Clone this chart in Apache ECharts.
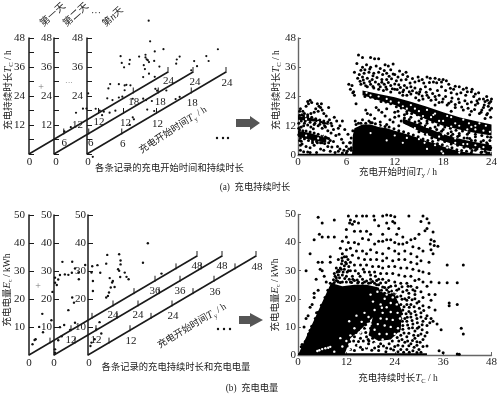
<!DOCTYPE html>
<html><head><meta charset="utf-8">
<style>html,body{margin:0;background:#fff}#c{width:500px;height:396px;filter:blur(0.45px)}</style>
<script src="https://cdn.jsdelivr.net/npm/echarts@6/dist/echarts.min.js"></script></head>
<body><div id="c"></div>
<script>
// ---- tick labels ----
const startTicks=[6,12,18,24];
const durationTicks=[6,12,18,24,30,36,42,48];
const durationLabels=[12,24,36,48];
// ---- left: example records per day, [Ts, Tc] ----
const recA2=[[3.8,11.7],[5,11.7],[5.6,10.9],[2.9,7],[1.8,6.8]];
const recA3=[[10.65,40.1],[10.9,31.2],[13.2,24.7],[11.7,25.9],[5.8,32.3],[10.1,26.8],[10.1,25.7],[10.3,24.6],[10.5,24],[10.7,22.9],[11.6,22.1],[7.4,28.5],[6,29.2],[7.3,26.9],[6.4,26.8],[9,27.6],[9.8,22.9],[12.5,18.5],[10,21],[10.7,18.1],[9.7,18.1],[11.7,15.4],[15.4,15.6],[15.5,17.2],[16,17.7],[18.5,12.3],[19,9.5],[20.6,11.4],[21,8.8],[22.6,11.4],[18,9.2],[4,23.3],[3.7,21.9],[5.5,21.1],[6.5,19.2],[6.8,19],[7.5,17.8],[6.5,17.2],[3.5,18.1],[4.4,16.1],[5.5,15.6],[6.1,15.1],[7.9,11.7],[9.7,9.2],[10.2,7.9],[11.8,10.3],[12.1,9.1],[13.7,6.9],[16,1],[15.3,1.1],[11.2,6.1],[10.4,3.7],[11.6,1.4],[7.9,4],[8.1,2.9],[7.4,1.6],[0.2,24.8],[1,-2.6],[1.5,16.6],[2.2,14.9],[2.9,13.4],[3.9,11.6],[4.9,11],[2.6,12.4]];
// ---- left: example records per day, [Tc, Ec] ----
const recB1=[[1,3.1],[1.6,4.2],[1.9,4.2],[2.9,7.9],[3.8,11.9],[4,5.2],[6.4,7.7],[6.7,17.6]];
const recB2=[[0.3,1.8],[0.3,0.6],[0.3,25.6],[0.3,27.4],[0.8,24.4],[1.2,26.1],[1.7,27.3],[2.4,31.5],[3.1,26.5],[4.1,25.6],[5.2,29.5],[5.1,25.6],[6,26.5],[7,24.3],[7.1,21.8],[8.9,25.6],[4.1,13],[5.2,16.7],[5.7,14.5],[6,7.1],[2.9,8.6],[1.7,8.7],[1.2,4.4],[2.2,5.1],[4.6,5.6]];
const recB3=[[1,3.7],[0.7,2.7],[1.9,4.2],[3.8,4.9],[3.3,9.3],[2.4,7.4],[1.2,30.8],[1,28.7],[1.4,25.4],[1.4,21.8],[2.7,30.1],[3.5,26.8],[5.2,28.8],[5.5,31.7],[5.2,16.7],[5.7,16.9],[6,17.9],[6.2,22.9],[6.5,19.3],[6.9,20.8],[7.1,21.2],[7.6,18.7],[8.9,29.4],[9.3,26.9],[9.3,25.5],[8.6,24.3],[8.9,23.5],[9.2,21.1],[10.5,21.7],[11,19.8],[11.6,18.5],[17.1,27.3],[15.7,21.4],[21,13.6]];
// ---- right top: [Ts, Tc] ----
const denseA=[[0.3,19],[0.6,18],[0.8,17],[1,20],[1.2,22],[1.3,21],[1.5,22.5],[1.7,21.5],[0.5,16.5],[0.2,18],[2.2,19],[2.4,21],[2.6,20],[2.8,19.5],[3,18.5],[3.2,17],[2.9,21],[2.5,18],[2,17.5],[1.6,17],[1.2,16.5],[3.5,16],[3.8,19.5],[3.9,14.5],[4.5,15.5],[4.8,14],[5,11],[5.2,12],[5.5,14],[5.8,10.5],[4.2,12],[4.4,10.5],[4.1,9],[3.4,11.5],[3,11],[2.5,12],[2,12.5],[1.6,11.5],[1.2,12.3],[0.7,12],[0.4,11.5],[0.1,11],[3.7,10],[4.7,8],[5.1,8.5],[5.4,6.5],[5.6,5],[6,3.5],[6.2,8.5],[6.4,5],[3.6,7],[4,6],[4.4,5.5],[4.9,3.5],[5.2,2.5],[5.7,2],[6.1,1.5],[6.3,2.5],[6.6,3],[1,3.5],[1.5,3],[0.5,4.5],[0.3,2],[0.7,1.3],[1.2,1.2],[2,4],[2.4,5],[2.8,2.5],[3.2,2],[3.7,3.5],[4,1.5],[4.2,3.3],[4.6,1],[5,1.5],[5.5,0.8],[6,0.8],[0.2,6],[0.4,5.6],[1.8,5],[3,5],[2.3,1],[1.5,1],[0.1,13],[0.8,13],[2.6,14],[3.2,13],[1.9,10.8],[0.3,4],
[7.5,41],[8,40],[9,40],[9.5,39.5],[10,39.5],[8,36],[7.3,37.5],[8.5,37],[9,36],[9.7,36.5],[10.8,37],[11.2,36.5],[11.8,37.3],[11.5,35],[12,33],[13,33],[13.4,34],[7,34],[7.6,33],[8.2,33.5],[8.8,34],[9.4,33.5],[10,34],[10.5,33],[11,33.5],[12.4,32],[7.4,31.5],[8,32],[8.6,31.5],[9.2,31],[9.8,31.8],[10.4,31],[11,31],[11.6,31.3],[12.2,30.5],[12.8,30.8],[13.4,31],[13.9,29.5],[14.5,30],[15,30.5],[15.6,29.5],[16,32],[16.4,31.5],[17,31.5],[17.5,31],[18,31],[18.4,30.5],[16.8,30],[15.8,28],[17.8,28],[18.7,29],[19.3,27],[20,28],[20.5,27],[21,26],[21.5,26],[22,25],[23,23],[23.5,22.5],[23.9,22],[22.5,23],[21.8,24],[20.8,24.5],[20.2,25.5],[19.7,25],[19,25.5],[18.3,26.5],[17.3,26.5],[16.4,27],[15.2,27],[14.5,27.5],[14,28],[13.2,28.5],[12.5,28.8],[11.5,28.5],[10.7,29],[10,29],[9,29],[8.2,29.5],[7.8,29],[6.7,28.5],[6.3,29],[6.5,27],[6.9,26],[7,24.5],[6.8,25.5],[7.2,21],[23.6,20],[23,19.5],[22,20.5],[21,21],[20,21.5],[19,22],[18,23],[17,24],[16,24.5],[15,25],[14,25],[13,26],[12,27],[11,27],[10,27],[8.6,28],[9.4,27.5],[10.6,26.5],[11.5,25.8],[12.6,25.5],[13.5,24.5],[14.6,23.5],[15.5,23],[16.5,22.5],[17.5,21.5],[18.5,20.5],[19.5,19.5],[20.5,18.5],[21.5,18],[22.5,17],[23.5,17],[23.9,15.5],[23.2,15],[22.8,18.5],[21.3,16.5],[19,18],[17,20.5],[15,22.5],[13,24.5],
[7.1,14],[7.5,13],[8,14.5],[8.4,18.5],[8.6,17],[9,16.5],[9.5,15],[9.7,19.5],[10,18.5],[10.4,17.5],[10.8,16],[11,19],[11.4,14.5],[11.8,13.5],[12,17.5],[12.4,18],[12.8,14],[13.2,16.5],[13.5,13],[14,15.5],[14.4,12],[8.8,14],[10.2,13.5],[9.2,13.2],[11,12.5],[12.5,12],[15,12.5],[15.5,10.5],[16,9.5],[16.5,8.5],[17,7.5],[17.5,9],[18,8],[18.5,6],[19,7.8],[19.5,6.5],[20,8.8],[20.5,5.5],[21,7],[21.5,6],[22,7.5],[22.5,3.5],[23,6],[23.5,4.5],[23.8,6],[23.9,3],[22.2,2.5],[23.2,1.5],[21.6,1.8],[23.7,0.8],[22.7,1],[16,13],[17,11.5],[18,10.5],[19,9.5],[20,8],[21,8.5],[15,14],[13.5,17],[12,15.5]];
const denseA2=[[7.7,30.3],[8.1,30.8],[8.4,28.4],[8.9,30.2],[9.3,28.1],[9.6,29.9],[10.2,28],[10.4,29.8],[10.9,27.9],[11.2,29.7],[11.7,27.2],[12,29.1],[12.3,26.9],[12.7,27.7],[13.1,26.7],[13.5,27.6],[13.8,26],[14.2,26.4],[14.7,25.5],[15.1,26],[15.4,24.2],[15.9,25.7],[16.2,23.6],[16.7,25.2],[17.1,22.8],[17.5,24.5],[17.9,21.7],[18.3,24],[18.7,21.2],[19.1,23.4],[19.5,20.7],[19.9,23],[20.3,19.7],[20.7,22.3],[21.1,19.2],[21.5,21.7],[21.9,18.7],[22.3,21.2],[22.7,17.5],[23.1,20.5],[23.4,16.5],[23.8,18.5],[24,19.2],[23.7,21.2],[23.2,22],[22.2,22.3],
[8.3,35],[8.9,35.3],[9.3,32.5],[7.8,34.8],[10.2,35.5],[10.7,34.7],[11.3,32.3],[11.8,33.2],[12.6,34.5],[13.6,32.2],[14.2,31.4],[14.9,32],[15.4,31],[16.3,29.7],[17.2,29.6],[17.8,30],[18.9,27.4],[19.5,28.2],[20.9,27.5],[21.6,27],[22.4,25.5],[23.4,24],[24,23],
[8.3,24],[9,23.7],[9.6,23.2],[10.3,22],[10.9,21.7],[11.5,21],[12.2,19.8],[12.8,19.3],[13.5,17.8],[14.1,17],[14.8,16.5],[15.3,15],[16,14],[16.7,13.5],[17.4,12.3],[18.2,11.5],[18.9,11],[19.6,10.2],[20.4,9.8],[21.2,9.2],[22,8.5],[22.8,8],[23.5,7.5],[23.9,7.3],
[12.5,16],[13.2,15.2],[13.8,14.6],[14.5,13.5],[15.2,13],[15.8,12],[16.4,11],[17.2,10.5],[17.8,9.7],[18.6,8.8],[19.2,8.5],[19.8,7.6],[20.6,7],[21.3,6.8],[22,6],[22.7,5.4],[23.4,5],[14,12.3],[15,9.5],[15.8,8.5],[16.6,7],[17.4,6.2],[18.2,5.5],[19,4.5],[19.8,4],[20.6,3.2],[21.4,2.8],[22,2],[22.8,1.2],[23.4,0.9],
[7.2,12.5],[7.8,13],[8.4,13],[9,13.3],[9.6,12.8],[10.2,12.2],[10.8,11.7],[11.3,11.5],[11.9,10.8],[12.5,10],[13.1,9.5],[13.7,8.8],[14.3,8.2],[14.9,7.5],[15.5,6.6],[16.1,6],[16.7,5.5],[17.3,4.6],[17.9,4.2],[18.5,3.4],[19.1,3],[19.7,2.2],[20.3,1.8],[20.9,1.5],[21.5,1],[6.8,10],[6.6,7],[6.5,5],[6.6,2],
[0.2,10.4],[0.6,10],[1,9.8],[1.5,9.4],[2,9],[2.5,8.5],[3,8],[3.4,7.4],[3.8,6.8],[0.3,7],[0.8,6.7],[1.3,6],[1.8,5.8],[2.3,5.5],[2.8,5],[3.3,4.7],[3.8,5],[0.2,16.3],[0.7,16],[1.2,15.7],[1.7,15.5],[2.2,14.9],[2.7,14.4],[3.2,14],[3.7,13.5],[4.1,13],[0.4,14],[0.9,13.9],[1.5,13.4],[2.1,13],[2.7,12.6],[3.3,12],[0.1,8.3]];
const speckA=[[9,24.5],[11,23],[12.5,21.5],[14,20.5],[13,20],[15,18],[16,18.5],[16.5,15.5],[17.5,14],[18.5,16],[19.5,13],[20.5,14.5],[21.5,11.5],[22.5,13],[23,10],[10,12],[12,8],[13.5,7],[15,6.5],[15.7,5],[17,4],[18.5,3],[20,1],[17.8,1.5],[14,9.5],[14.2,14],[16,11.5],[18,8.5],[19.5,5],[21,4.5],[22.5,2.5],[1,8],[2.5,6.8],[3,8.5],[1,14.7],[2.5,13.5],[21.2,13],[22,10.5],[16.8,16.5],[19,11.7],[8.5,25.5],[10,24],[11.5,22],[13.5,19],[14.5,19],[15.5,16],[17,17],[18,14],[19,15.5],[20,12],[21,10.5],[22,12],[23.3,12],[23.8,9.5],[14.5,11],[16,8.5],[17.5,7.5],[19.5,6.8],[20.5,4.5],[22,4],[23,3.2],[18,0.7],[13,5],[11,6],[9,9],[16,2.5]];
const areasA=[
 [[6.7,0],[6.8,8],[7,11],[8,12.5],[9,12.5],[10,11.5],[11,11],[12,10],[13,9],[14,8],[15,7],[16,5.5],[17,4.8],[18,3.5],[19,2.5],[20,1.5],[21,1],[22,0.5],[24,0]],
 [[8,26.5],[10,25],[12,23.7],[14,21.8],[16,19.8],[18,17.5],[20,15.5],[22,14],[24,12.5],[24,8],[22,9],[20,10.5],[18,12],[16,14.5],[14,17.5],[12,20.5],[10,22.5],[8,24.5]],
 [[13,15],[15,12.5],[17,9.8],[19,7.5],[21,6],[24,4],[24,1.5],[21,3],[19,4.7],[17,6.8],[15,9.8],[13,13]],
 [[0,10],[1.5,9],[3.5,7],[3.5,5],[1.5,6.3],[0,7.5]],
 [[0,16],[2,15],[3.8,13],[3.8,12.3],[2,13.7],[0,14.5]],
 [[0,0],[24,0],[24,0.5],[0,0.5]]
];
// ---- right bottom: [Tc, Ec] ----
const denseB=[[5,49],[6,47],[9,48],[5.3,43],[6,42],[7.5,42],[9,42],[4,41],[3,36],[5,33],[6,33],[8,35],[8,33],[5.5,30.5],[6,30],[2,30],[4.5,27],[6.5,28],[5,23],[4,22],[4,20.5],[3.5,18],[3,17],[2.5,14],[2,13],[1.5,10],[7,26],[37,32],[41,32],[33,26],[35,25.7],[37,25.7],[39.5,25.7],[37.5,18.5],[37.5,17.5],[39.5,18],[35.5,9],[40.5,9.5],[41,7.5],[40,0.3],[35,1.5],[36,0.8],[39.5,0.4],
[12.5,49.5],[14.5,49.5],[16,49.5],[17,49.5],[18.8,49.5],[21,49.5],[22,49.8],[23,49.6],[24,49.2],[27.5,49.5],[31,49.5],[32,48.5],[13,48],[12.8,47],[14,47.5],[13.5,46.5],[15,47],[19,48],[20,46],[22,47],[23.5,47.5],[24,47],[25,45],[30.5,47.5],[32.5,47],[32,45],[31.5,44.2],[33.5,43.8],[12,44.7],[14,44],[15.5,44],[17,44],[18,43],[21,43],[22.5,45],[24.5,43],[26,42],[28,41],[29,41.5],[30,43],[33,41],[33.8,40.5],[32.8,39.5],[33.8,39],[34.7,38.7],[12,42],[11,40.5],[12.5,40],[14,40],[15,39.5],[16,41.5],[17.5,41],[19,39.5],[20,40.5],[21,40.5],[22,41],[23,41],[24,40],[25,39.5],[26,39.5],[27,40],[28.5,38.5],[30,38],[31,37],[33,37.5],[33.5,36],
[10.5,38],[12,37.5],[13,38],[14.5,37],[16,37],[17,36],[18,37.5],[19.5,36.5],[21,36],[22.5,38],[24,37],[25,36],[26.5,37],[28,36],[29.5,35],[11,36],[12,35],[13.5,35.5],[15,34.5],[16.5,34],[18,34],[19.5,34],[21,33.5],[22,34.5],[23.5,33.5],[25,34],[26.5,34],[28,33],[29.5,32.5],[30.5,33.5],[32.5,33],[10,34],[11,33.5],[12,32.5],[13,33],[14,32],[15.5,32],[17,32],[18.5,31.5],[20,31.5],[21,31],[22.5,31.5],[24,31.5],[25.5,31],[27,31],[28.5,30.5],[30,30],[31,29.5],[32.5,29],[9.5,31],[10.5,31],[11.5,30.5],[12.5,30],[9,29],[10,28.5],[11,28.5],[12,28],[13.5,28],[15,29],[16.5,29.5],[18,28.5],[19,29.5],[20.5,29],[22,29],[23.5,29],[25,28.5],[26.5,28],[28,28],[29,26.5],[30,27],[31,26],[32,24.5],[16,27],[18,27],[19.5,26.5],[21,27],[22.5,26.5],[24,26],[25.5,25.5],[27,25.5],[28,24.5],[29.5,24],[30.5,22.5],[32.5,21.5],[34,21.5],[31,20.5],[33,19.5],[29,21.5],[27,23],[25,23.5],[23,24.5],[21.5,24],
[20.5,21],[21.5,22],[22.5,22.5],[24,22],[25.5,21],[26.5,20],[27.5,20.5],[28,18],[29.5,18.5],[31,17.5],[32.5,17],[34,16],[21,18],[22,19.5],[23,20],[24.5,19],[25.5,18],[27,18],[26,16],[27.5,15.5],[29,15.5],[30.5,15],[32,14],[33,13],[33.5,12],[34.5,11],[28,13.5],[29.5,13],[31,12],[32,10.5],[30,10],[28.5,11],[27,12],[25.5,13],[26,10.5],[27.5,9.5],[29,8.5],[30.5,7.5],[32,8],[31,5.5],[29,6],[27,6.5],[25.5,7],[26.5,4.5],[28,4],[29.5,3.5],[31,3],[25,5],[24,3],[25.5,2],[27,2],[28.5,1.5],[30.5,1],[22,2.5],[20.5,4],[19,2.5],[17.5,4],[16,2],[14.5,3.5],[13,2],[11.5,4],[12.5,6],[14,6.5],[15.5,6],[17,6.5],[18.5,6],[20,7],[21.5,7],[23,6.5],[24,8.5],[22.5,9.5],[21,10],[19.5,10],[18,9.5],[16.5,9.5],[15,9],[13.5,9],[12,8.5],[11,7],[10.5,2.5],[14,11.5],[16,11.5],[17.5,12],[19,13],[20.5,13],[22,12.5],[23.5,11.5],[25,10.5],[24.5,15],[23,15],[21.5,15],[20.5,16],[22.5,17],[24,17],[25.5,15.5],[26.5,13],[9.5,26.5],[9.5,27.5],[10,26],[11,26],[12,26],[13,26],[14,26.5],[15,26],[16,25.5],[17.5,25.5],[19,25.5],[20,25],[10.2,29.7],[11.5,31.8],[10.8,32.5],[9,25.8],[8.8,26.8]];
const denseB2=[[9.2,28],[9.7,29.5],[10.3,27.5],[10.7,30.5],[11.2,29.5],[11.6,27.2],[12.2,29.5],[12.6,31.5],[11.8,33],[10.9,34.5],[11.5,35],[12.4,34],[13,30],[13.6,27],[14.2,30],[14.7,26.7],[15.4,28],[16.2,30.5],[17,26.3],[17.7,29.5],[18.5,26.2],[19.2,28],[20,27],[10,30.2],[9.8,26.3],[10.5,25.8],[12.7,27],[13.3,25.8],[14.8,25.6],[16.5,26],[18,25.7],[19.5,25],[20.5,25.6],[21,24.2],[21.8,25.8],[22.5,24],
[20.7,23],[22,23.2],[23.2,22.8],[24.5,23],[26,22.5],[27.5,22],[29,22.8],[24.2,24.6],[25.8,24.3],[27.3,24.5],[28.5,23.2],[20.6,22],[21.2,20.5],[22.2,21],[23.3,21.5],[24.6,20.7],[25.8,19.8],[27,19.5],[28.3,19.7],[29,20],[30,19],[21.6,19],[22.8,18.2],[24,19.5],[25,17.5],[26.3,17.2],[27.6,17],[28.8,17.2],[30.1,16.6],[31.2,15.8],[20.8,17],[22,16],[23.4,16.2],[24.6,16.3],[25.7,14.7],[26.8,14.7],[28,14.8],[29.3,14.2],[30.5,13.5],[31.7,13],[32.7,11.5],[21,14.2],[22.3,14],[23.5,14.3],[24.7,13.5],[25.9,12],[27.1,13.4],[28.3,12.3],[29.6,11.5],[30.8,10.8],[20,12],[21.2,11.7],[22.5,11.2],[23.7,10.2],[24.8,11.8],[26,9.2],[27.2,10.7],[28.4,9.7],[29.6,9.5],[30.8,9],[31.5,6.8],[19,11.5],[20.2,9],[21.5,9],[22.7,8],[23.8,7.2],[25,8.5],[26.3,7.8],[27.5,7.7],[28.7,7],[29.8,6.9],[30.3,4.5],[18.5,8],[19.8,7.8],[21,6.3],[22.2,6],[23.4,5],[24.6,6.2],[25.8,5.5],[27.2,5],[28.4,5.2],[29.5,4.7],[32,3.2],[17.6,5],[18.8,4.5],[20,3],[21.2,3.2],[22.6,4],[23.7,1.8],[24.8,3.5],[26,3.2],[27.5,3.3],[28.8,2.8],[30,2],[14,1.6],[15.5,2.8],[17,2.5],[18.3,1.7],[20,1.6],[21.8,1.2],[23,2.2],[24.8,1.2],[26.2,1],[27.6,1],[29.5,0.9],
[9.8,8],[10.3,5.7],[10.8,4.2],[11.2,2.5],[10,1.6],[11.8,6],[12.2,3.2],[12.8,4.8],[13.2,7],[13.8,5],[14.4,8],[15,4.8],[15.6,7.8],[16.2,5],[16.8,8],[17.4,5.5],[18,7.4],[13.3,10.5],[14.5,10.5],[15.7,10.2],[16.8,10.7],[18.2,11],[19.3,11],[15,12.3],[17,13.7],[18.6,14.8],[19.8,14.2],[20.4,15],[19.2,16.5],[20,17.5],[20.9,19.5],[10.2,9.8],[11,10.3],[12,10.2],[11.5,8.8],[9.3,3],[8.7,1.5],[9.6,5],[0.8,2.9],[1.8,4.8],[2.6,7.5],[3.4,10.2],[4.3,13],[5,15.2],[5.8,17.7],[6.7,20.5],[7.4,23],[8,25.5],[8.7,25.3],[3,8.8],[4.6,15],[1,3.7]];
const speckB=[[19,16],[20.5,18],[21.5,20],[22,21.5],[23.5,20.5],[23,18.5],[24.5,18],[22,17],[21,15],[23,15.3],[24.7,15],[25.3,13],[23.5,12.5],[22,12.8],[20.5,13],[19.8,11],[21.5,10.5],[23,10],[24.8,9.5],[24,7.5],[22,7.5],[20.2,7.5],[19,9],[18,11],[17,10],[15.5,8],[14,9.5],[13,7],[12,5],[11,3],[12.8,2],[15,3.5],[17,3],[19,4],[15.8,11.8],[17.5,13.5],[16.5,15],[14.5,14],[12.7,12],[5.3,1.7],[6,2.1],[6.8,2.4],[7.5,2.6],[4.8,1.4],[8,2.9],[9,1.2],[10.5,6],[21,5.5],[18.6,19],[19.7,22.5],[18,21.5],[20.8,16.8],[24.2,22.3],[25,19.5],[22.8,23.3]];
const areasB=[
 [[0,0],[8.2,25.6],[11,24.5],[14,25],[17,25],[20,24],[21,21],[19,14],[15.5,9],[13,6],[11.5,0]],
 [[20,22.5],[24,21.5],[25.7,16],[25.5,9],[23,5.5],[20,5],[17.5,7]],
 [[0,0],[32,0],[32,0.6],[0,0.6]]
];
// ---- geometry and styling (not data) ----
const serif="'Liberation Serif','Noto Sans CJK SC'";
const ink='#1a1a1a';
const geoA={o:[[29,154],[54,154],[87,154]],top:38,h:116,hx:139/24,hy:-82/24,ky:-116/48,off:[[0.5,9.5],[2,10],[1,11]],m:[4,2,4]};
const geoB={o:[[29,355],[54,355],[88,355]],top:215,h:140,hx:168/48,hy:-99/48,ky:-140/50,off:[[0,10],[0,10],[1,11]],m:[4,2,2]};
const proj=(g,i,p)=>[g.o[i][0]+p[0]*g.hx,g.o[i][1]+p[0]*g.hy+p[1]*g.ky];
const grid=[{left:0,top:0,width:500,height:396}];
const xAxis=[{gridIndex:0,type:'value',min:0,max:500,show:false}];
const yAxis=[{gridIndex:0,type:'value',min:0,max:396,inverse:true,show:false}];
const series=[];
function addPanel(g,i,ymax,step,minor){
 const n=grid.length;
 grid.push({left:g.o[i][0],top:g.top,width:1,height:g.h});
 xAxis.push({gridIndex:n,type:'value',show:false,min:0,max:1});
 yAxis.push({gridIndex:n,type:'value',min:0,max:ymax,interval:step,
  axisLine:{show:true,onZero:false,lineStyle:{color:ink,width:1.5}},
  axisTick:{show:true,inside:true,length:5,lineStyle:{color:ink,width:1}},
  minorTick:{show:minor,splitNumber:2,length:5,lineStyle:{color:ink,width:1}},
  splitLine:{show:false},
  axisLabel:{show:true,showMinLabel:false,margin:g.m[i],color:ink,fontFamily:serif,fontSize:11}});
}
function addSlant(g,i,maxH,ticks,labels){
 series.push({type:'line',xAxisIndex:0,yAxisIndex:0,symbol:'none',silent:true,
  lineStyle:{color:ink,width:1.6},data:[proj(g,i,[0,0]),proj(g,i,[maxH,0])]});
 series.push({type:'custom',xAxisIndex:0,yAxisIndex:0,silent:true,data:[0].concat(ticks).map(t=>[t]),
  encode:{x:0},clip:false,
  renderItem(params,api){
   const t=api.value(0),p=api.coord(proj(g,i,[t,0])),ch=[];
   if(t>0) ch.push({type:'line',shape:{x1:p[0],y1:p[1]+1,x2:p[0],y2:p[1]-5},style:{stroke:ink,lineWidth:1}});
   if(t===0||labels.includes(t)) ch.push({type:'text',style:{text:String(t),x:p[0]+g.off[i][0],y:p[1]+(t===0?8:g.off[i][1]),
     align:'center',verticalAlign:'middle',fontFamily:serif,fontSize:11,fill:ink}});
   return {type:'group',children:ch};
  }});
}
function addRight(left,top,h,xmax,xstep,ymax,ystep){
 const n=grid.length;
 grid.push({left,top,width:197,height:h});
 const common={type:'value',axisLine:{show:true,onZero:false,lineStyle:{color:'#666',width:1.4}},
   axisTick:{show:true,inside:true,length:3,lineStyle:{color:'#666'}},splitLine:{show:false},
   axisLabel:{color:ink,fontFamily:serif,fontSize:11}};
 xAxis.push(Object.assign({},common,{gridIndex:n,min:0,max:xmax,interval:xstep,axisLabel:Object.assign({},common.axisLabel,{margin:2})}));
 yAxis.push(Object.assign({},common,{gridIndex:n,min:0,max:ymax,interval:ystep,axisLabel:Object.assign({},common.axisLabel,{margin:2})}));
 return n;
}
function addArea(n,poly){
 series.push({type:'custom',xAxisIndex:n,yAxisIndex:n,silent:true,data:poly,encode:{x:0,y:1},
  renderItem(params,api){
   if(params.dataIndex!==0) return;
   return {type:'polygon',shape:{points:poly.map(p=>api.coord(p))},style:{fill:'#000'}};
  }});
}
function addDots(n,data,color,size){
 series.push({type:'scatter',xAxisIndex:n,yAxisIndex:n,silent:true,symbolSize:size,clip:false,
   itemStyle:{color,opacity:1},data,large:false});
}
[0,1,2].forEach(i=>addPanel(geoA,i,48,12,true));
[0,1,2].forEach(i=>addPanel(geoB,i,50,10,false));
[0,1,2].forEach(i=>addSlant(geoA,i,24,startTicks,startTicks));
[0,1,2].forEach(i=>addSlant(geoB,i,48,durationTicks,durationLabels));
addDots(0,recA2.map(p=>proj(geoA,1,p)),'#111',2.2);
addDots(0,recA3.map(p=>proj(geoA,2,p)),'#111',2.2);
addDots(0,recB1.map(p=>proj(geoB,0,p)),'#111',2.4);
addDots(0,recB2.map(p=>proj(geoB,1,p)),'#111',2.4);
addDots(0,recB3.map(p=>proj(geoB,2,p)),'#111',2.4);
const ra=addRight(298,38,117,24,6,48,12);
const rb=addRight(298,214.5,140.5,48,12,50,10);
areasA.forEach(p=>addArea(ra,p));
addDots(ra,denseA,'#000',3);
addDots(ra,denseA2,'#000',3);
addDots(ra,speckA,'#fff',2.2);
areasB.forEach(p=>addArea(rb,p));
addDots(rb,denseB,'#000',3);
addDots(rb,denseB2,'#000',3);
addDots(rb,speckB,'#fff',2.4);
// text
const rich={a:{fontFamily:serif,fontSize:9.5,fill:ink,lineHeight:14},
 i:{fontFamily:serif,fontSize:10.5,fontStyle:'italic',fill:ink,lineHeight:14},
 s:{fontFamily:serif,fontSize:6.5,fill:ink,verticalAlign:'bottom',lineHeight:11}};
const T=(x,y,text,deg,size,fill)=>({type:'text',x,y,rotation:(deg||0)*Math.PI/180,silent:true,
  style:{text,align:'center',verticalAlign:'middle',fontFamily:serif,fontSize:size||10,fill:fill||ink,rich}});
const arrow=(x0,x1,xh,y,sh,hh)=>({type:'polygon',silent:true,shape:{points:[[x0,y-sh],[xh,y-sh],[xh,y-hh],[x1,y],[xh,y+hh],[xh,y+sh],[x0,y+sh]]},style:{fill:'#555'}});
const dot=(x,y)=>({type:'circle',silent:true,shape:{cx:x,cy:y,r:1.2},style:{fill:'#111'}});
const graphic=[
 T(53,15,'第一天',42,10),T(76,15,'第二天',42,10),T(113,17,'{a|第}{i|n}{a|天}',42),
 T(96,13,'···',0,10),T(69,83,'···',0,8,'#777'),
 T(41,87,'+',0,10,'#777'),T(38,286,'+',0,10,'#777'),
 T(8,90,'{a|充电持续时长}{i|T}{s|C}{a| / h}',90),
 T(7,290,'{a|充电电量}{i|E}{s|c}{a| / kWh}',90),
 T(173,130,'{a|充电开始时间}{i|T}{s|y}{a| / h}',33),
 T(192,326,'{a|充电开始时间}{i|T}{s|y}{a| / h}',31),
 T(169.5,169,'各条记录的充电开始时间和持续时长',0,9.3),
 T(176,368,'各条记录的充电持续时长和充电电量',0,9.3),
 T(255,188,'(a)  充电持续时长',0,9.3),
 T(252,389,'(b)  充电电量',0,9.3),
 T(276,90,'{a|充电持续时长}{i|T}{s|C}{a| / h}',90),
 T(275,295,'{a|充电电量}{i|E}{s|c}{a| / kWh}',90),
 T(398,172,'{a|充电开始时间}{i|T}{s|y}{a| / h}',0),
 T(398,378,'{a|充电持续时长}{i|T}{s|C}{a| / h}',0),
 arrow(236,260,250,123,4,7),arrow(239,263,250,320,4,7),
 dot(217,138),dot(223,138),dot(228,138),dot(218,329),dot(224,329),dot(230,329)
];
const chart=echarts.init(document.getElementById('c'),null,{renderer:'canvas'});
chart.setOption({animation:false,backgroundColor:'#fff',grid,xAxis,yAxis,series,graphic:{elements:graphic}});
</script></body></html>
